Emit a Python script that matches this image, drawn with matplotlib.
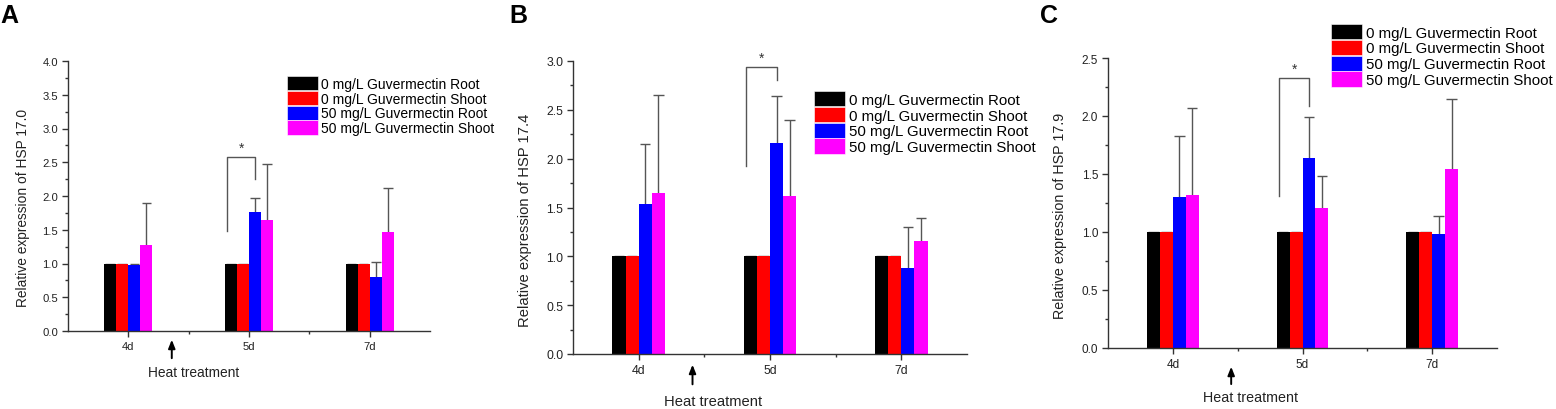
import matplotlib
matplotlib.use("Agg")
import matplotlib.pyplot as plt
from matplotlib.patches import Patch
from matplotlib.ticker import MultipleLocator, FixedLocator
import numpy as np

plt.rcParams['font.family'] = ['Liberation Sans', 'DejaVu Sans']

# x categories and series
days = ['4d', '5d', '7d']
series = ['0 mg/L Guvermectin Root', '0 mg/L Guvermectin Shoot',
          '50 mg/L Guvermectin Root', '50 mg/L Guvermectin Shoot']
colors = ['#000000', '#ff0000', '#0000ff', '#ff00ff']

# panel A - HSP 17.0 (means, upper error bound)
a_means = [[1.0, 1.0, 1.0], [1.0, 1.0, 1.0], [0.98, 1.76, 0.80], [1.27, 1.65, 1.46]]
a_tops = [[1.0, 1.0, 1.0], [1.0, 1.0, 1.0], [1.00, 1.97, 1.02], [1.90, 2.48, 2.12]]
# panel B - HSP 17.4
b_means = [[1.0, 1.0, 1.0], [1.0, 1.0, 1.0], [1.54, 2.16, 0.88], [1.65, 1.62, 1.16]]
b_tops = [[1.0, 1.0, 1.0], [1.0, 1.0, 1.0], [2.15, 2.64, 1.30], [2.65, 2.40, 1.39]]
# panel C - HSP 17.9
c_means = [[1.0, 1.0, 1.0], [1.0, 1.0, 1.0], [1.30, 1.64, 0.98], [1.32, 1.21, 1.54]]
c_tops = [[1.0, 1.0, 1.0], [1.0, 1.0, 1.0], [1.83, 1.99, 1.14], [2.07, 1.48, 2.15]]

# significance bracket at 5d: (left leg bottom, top, right leg bottom)
a_sig = [1.48, 2.58, 2.25]
b_sig = [1.92, 2.94, 2.81]
c_sig = [1.31, 2.33, 2.09]

W, H = 1556, 410
fig = plt.figure(figsize=(W / 100, H / 100), dpi=100)


def px_axes(l, r, t, b):
    return fig.add_axes([l / W, 1 - b / H, (r - l) / W, (b - t) / H])


def panel(ax, means, tops, sig, ymax, gene, arrow, leg, fs):
    x = np.arange(1, len(days) + 1)
    bw = 0.1
    for i in range(len(series)):
        xs = x + (i - 1.5) * bw
        ax.bar(xs, means[i], width=bw, color=colors[i], linewidth=0, zorder=2)
        m = np.array(means[i])
        t = np.array(tops[i])
        ax.vlines(xs, m, t, color='#555555', lw=1.0, zorder=1)
        ax.hlines(t, xs - 0.04, xs + 0.04, color='#555555', lw=1.0, zorder=1)
    # bracket between 0 mg/L root and 50 mg/L root at 5d
    xl = 2 - 1.5 * bw - 0.03
    xr = 2 + 0.5 * bw
    ax.plot([xl, xl, xr, xr], [sig[0], sig[1], sig[1], sig[2]],
            color='#555555', lw=1.0, clip_on=False)
    ax.text((xl + xr) / 2, sig[1] + ymax * 0.008, '*', ha='center', va='bottom',
            fontsize=10, color='#333333')

    ax.set_xlim(0.5, 3.5)
    ax.set_ylim(0, ymax)
    ax.set_xticks(x)
    ax.set_xticklabels(days)
    ax.xaxis.set_minor_locator(FixedLocator([1.5, 2.5]))
    ax.yaxis.set_major_locator(MultipleLocator(0.5))
    ax.yaxis.set_minor_locator(MultipleLocator(0.25))
    ax.yaxis.set_major_formatter(matplotlib.ticker.FormatStrFormatter('%.1f'))
    for s in ['top', 'right']:
        ax.spines[s].set_visible(False)
    for s in ['left', 'bottom']:
        ax.spines[s].set_color('#333333')
        ax.spines[s].set_linewidth(1.0)
    ax.tick_params(which='major', length=4, width=1, color='#333333',
                   labelsize=fs - 1.8, labelcolor='#222222', pad=3)
    ax.tick_params(which='minor', length=2.5, width=1, color='#333333')
    ax.set_ylabel('Relative expression of HSP ' + gene, fontsize=fs, color='#222222')
    ax.yaxis.set_label_coords(-0.105, 0.46)

    ax_x, head_y, tail_y, txt_x, txt_y = arrow
    ax.annotate('', xy=(ax_x, head_y), xytext=(ax_x, tail_y),
                xycoords=('data', 'axes fraction'), textcoords=('data', 'axes fraction'),
                arrowprops=dict(arrowstyle='-|>,head_length=0.5,head_width=0.2',
                                color='black', lw=1.4), annotation_clip=False)
    ax.annotate('Heat treatment', xy=(txt_x, txt_y), xycoords=('data', 'axes fraction'),
                ha='center', va='center', fontsize=fs, color='#222222',
                annotation_clip=False)

    lx, ly, lfs, hh = leg
    handles = [Patch(facecolor=c, edgecolor='white', linewidth=0.4) for c in colors]
    ax.legend(handles, series, loc='upper left', bbox_to_anchor=(lx / W, 1 - ly / H),
              bbox_transform=fig.transFigure, frameon=False, fontsize=lfs,
              borderpad=0, borderaxespad=0, labelspacing=0, handletextpad=0.25,
              handlelength=31 / (lfs * 100 / 72), handleheight=hh / (lfs * 100 / 72))


axA = px_axes(68, 430, 62, 332)
panel(axA, a_means, a_tops, a_sig, 4.0, '17.0',
      (1.36, -0.022, -0.111, 1.54, -0.152), (287, 77, 10.0, 16.75), 9.9)
axB = px_axes(573, 967, 62, 355)
panel(axB, b_means, b_tops, b_sig, 3.0, '17.4',
      (1.41, -0.027, -0.113, 1.57, -0.16), (814, 92, 10.8, 18), 10.6)
axC = px_axes(1108, 1497, 59, 349)
panel(axC, c_means, c_tops, c_sig, 2.5, '17.9',
      (1.45, -0.055, -0.134, 1.60, -0.169), (1331, 25, 10.8, 18), 10.3)

for lab, px in [('A', 0), ('B', 509), ('C', 1040)]:
    fig.text(px / W, 1 - 4 / H, lab, fontsize=18, fontweight='bold',
             ha='left', va='top')

fig.savefig('out.png', dpi=100)
